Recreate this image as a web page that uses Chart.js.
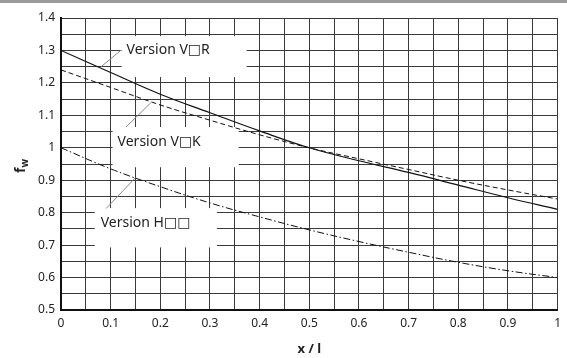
<!DOCTYPE html>
<html>
<head>
<meta charset="utf-8">
<script src="https://cdn.jsdelivr.net/npm/chart.js"></script>
<style>
    html, body { margin: 0; padding: 0; background: #fff; }
    #wrap { position: relative; width: 567px; height: 358px; }
    #topbar { position: absolute; left: 0; top: 0; width: 567px; height: 3px; background: #9a9a9a; }
</style>
</head>
<body>
<div id="wrap">
    <canvas id="chart" width="567" height="358"></canvas>
    <div id="topbar"></div>
</div>
<script>
// x / l positions
const xValues = [0, 0.1, 0.2, 0.3, 0.4, 0.5, 0.6, 0.7, 0.8, 0.9, 1.0];

// f_w per version
const versionVR = [1.300, 1.232, 1.165, 1.108, 1.052, 1.000, 0.960, 0.924, 0.885, 0.846, 0.810];
const versionVK = [1.240, 1.186, 1.132, 1.085, 1.040, 1.000, 0.966, 0.933, 0.900, 0.870, 0.842];
const versionH  = [1.000, 0.935, 0.880, 0.830, 0.787, 0.747, 0.711, 0.678, 0.647, 0.621, 0.600];

const seriesNames = ['Version V\u25A1R', 'Version V\u25A1K', 'Version H\u25A1\u25A1'];

// label boxes in data coordinates: [xFrom, xTo, yTop, yBottom], text anchor, leader line
const callouts = [
    { text: seriesNames[0], box: [0.122, 0.374, 1.344, 1.218], at: [0.132, 1.300], leader: [0.121, 1.301, 0.081, 1.250] },
    { text: seriesNames[1], box: [0.104, 0.358, 1.064, 0.940], at: [0.114, 1.018], leader: [0.131, 1.064, 0.181, 1.139] },
    { text: seriesNames[2], box: [0.068, 0.314, 0.814, 0.693], at: [0.080, 0.768], leader: [0.091, 0.813, 0.150, 0.908] }
];

const FONT = "'Noto Sans', 'DejaVu Sans', sans-serif";
const fmt = v => {
    const r = Math.round(v * 100) / 100;
    return (Math.round(r * 10) === r * 10) ? String(Number(r.toFixed(1))) : '';
};

const toPoints = ys => xValues.map((x, i) => ({ x: x, y: ys[i] }));

const decorPlugin = {
    id: 'decor',
    beforeDatasetsDraw(chart) {
        const { ctx } = chart;
        const xs = chart.scales.x, ys = chart.scales.y;
        ctx.save();
        callouts.forEach(c => {
            const l = xs.getPixelForValue(c.box[0]), r = xs.getPixelForValue(c.box[1]);
            const t = ys.getPixelForValue(c.box[2]), b = ys.getPixelForValue(c.box[3]);
            ctx.fillStyle = '#fff';
            ctx.fillRect(l, t, r - l, b - t);

            ctx.strokeStyle = '#888';
            ctx.lineWidth = 1;
            ctx.beginPath();
            ctx.moveTo(xs.getPixelForValue(c.leader[0]), ys.getPixelForValue(c.leader[1]));
            ctx.lineTo(xs.getPixelForValue(c.leader[2]), ys.getPixelForValue(c.leader[3]));
            ctx.stroke();

            ctx.fillStyle = '#222';
            ctx.font = '14px ' + FONT;
            ctx.textAlign = 'left';
            ctx.textBaseline = 'middle';
            ctx.fillText(c.text, xs.getPixelForValue(c.at[0]), ys.getPixelForValue(c.at[1]));
        });
        ctx.restore();
    },
    afterDraw(chart) {
        const { ctx, chartArea } = chart;
        ctx.save();
        ctx.fillStyle = '#222';
        // x axis title
        ctx.font = 'bold 13px ' + FONT;
        ctx.textAlign = 'center';
        ctx.textBaseline = 'middle';
        ctx.fillText('x / l', (chartArea.left + chartArea.right) / 2, 349);
        // y axis title f_w
        ctx.translate(20, (chartArea.top + chartArea.bottom) / 2 + 2);
        ctx.rotate(-Math.PI / 2);
        ctx.textAlign = 'left';
        ctx.textBaseline = 'alphabetic';
        ctx.font = 'bold 14px ' + FONT;
        const fw = ctx.measureText('f').width;
        ctx.font = 'bold 10px ' + FONT;
        const ww = ctx.measureText('w').width;
        const start = -(fw + ww) / 2;
        ctx.font = 'bold 14px ' + FONT;
        ctx.fillText('f', start, 5);
        ctx.font = 'bold 10px ' + FONT;
        ctx.fillText('w', start + fw, 8);
        ctx.restore();
    }
};

new Chart(document.getElementById('chart'), {
    type: 'line',
    data: {
        datasets: [
            { label: seriesNames[0], data: toPoints(versionVR), borderColor: '#111', borderWidth: 1.2, tension: 0.4 },
            { label: seriesNames[1], data: toPoints(versionVK), borderColor: '#111', borderWidth: 1, borderDash: [5, 3], tension: 0.4 },
            { label: seriesNames[2], data: toPoints(versionH), borderColor: '#111', borderWidth: 1, borderDash: [7, 2.5, 1.5, 2.5], tension: 0.4 }
        ]
    },
    options: {
        responsive: false,
        animation: false,
        layout: { padding: { top: 18, right: 6, left: 0, bottom: 0 } },
        elements: { point: { radius: 0 } },
        plugins: { legend: { display: false }, tooltip: { enabled: false } },
        scales: {
            x: {
                type: 'linear', min: 0, max: 1,
                afterFit: s => { s.height = 48; },
                grid: { color: '#3a3a3a', lineWidth: 1, drawTicks: false },
                border: { color: '#111', width: 2 },
                ticks: { stepSize: 0.05, autoSkip: false, maxRotation: 0, padding: 6, color: '#222', font: { family: FONT, size: 12 }, callback: v => fmt(v) }
            },
            y: {
                min: 0.5, max: 1.4,
                afterFit: s => { s.width = 61; },
                grid: { color: '#3a3a3a', lineWidth: 1, drawTicks: false },
                border: { color: '#111', width: 2 },
                ticks: { stepSize: 0.05, autoSkip: false, padding: 6, color: '#222', font: { family: FONT, size: 12 }, callback: v => fmt(v) }
            }
        }
    },
    plugins: [decorPlugin]
});
</script>
</body>
</html>
